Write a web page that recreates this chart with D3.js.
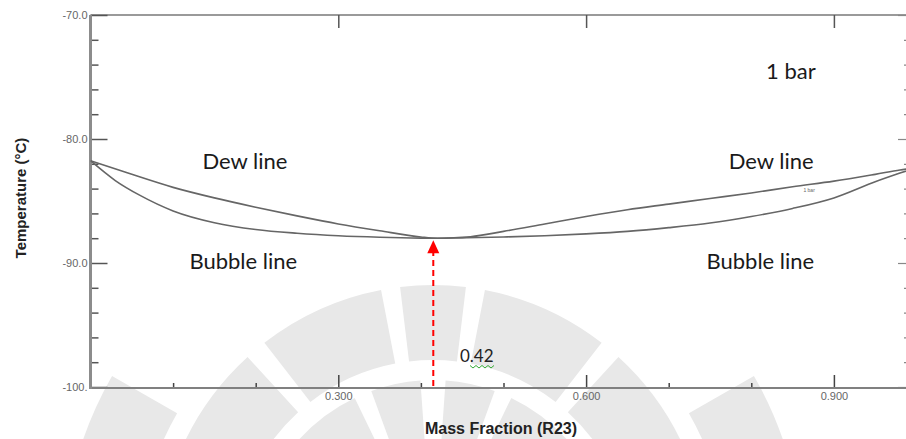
<!DOCTYPE html>
<html><head><meta charset="utf-8">
<script src="https://cdn.jsdelivr.net/npm/d3@7"></script>
<style>body{margin:0;background:#fff}svg{display:block}</style>
</head><body>
<svg id="c" width="906" height="439"></svg>
<script>
// ---- data ----
const dewX = [0, 0.05, 0.10, 0.15, 0.20, 0.25, 0.30, 0.35, 0.40, 0.42, 0.46, 0.50, 0.55, 0.60, 0.65, 0.70, 0.75, 0.80, 0.85, 0.90, 0.95, 0.98, 1.0];
const dewT = [-81.75, -82.85, -83.9, -84.75, -85.5, -86.2, -86.85, -87.4, -87.9, -88.0, -87.88, -87.45, -86.85, -86.25, -85.7, -85.25, -84.8, -84.35, -83.85, -83.4, -82.85, -82.5, -82.3];
const bubX = [0, 0.03, 0.06, 0.10, 0.15, 0.20, 0.25, 0.30, 0.35, 0.40, 0.42, 0.45, 0.50, 0.55, 0.60, 0.65, 0.70, 0.75, 0.80, 0.85, 0.90, 0.95, 0.98, 1.0];
const bubT = [-81.75, -83.35, -84.55, -85.8, -86.75, -87.3, -87.6, -87.8, -87.92, -87.99, -88.0, -87.97, -87.9, -87.8, -87.65, -87.45, -87.15, -86.78, -86.25, -85.6, -84.75, -83.45, -82.75, -82.3];
const yMajor = [-100, -90, -80, -70];
const yMajorLabels = ["-100.", "-90.0", "-80.0", "-70.0"];
const yMinor = [-98, -96, -94, -92, -88, -86, -84, -82, -78, -76, -74, -72];
const xMajor = [0.3, 0.6, 0.9];
const xMajorLabels = ["0.300", "0.600", "0.900"];
const xMinor = [0.1, 0.2, 0.4, 0.5, 0.7, 0.8];
const azeotropeX = 0.415, azeotropeT = -88.0, azeotropeLabel = "0.42";
const notes = [
  {text: "1 bar", x: 0.848, t: -75.2},
  {text: "Dew line", x: 0.187, t: -82.4},
  {text: "Dew line", x: 0.824, t: -82.4},
  {text: "Bubble line", x: 0.185, t: -90.5},
  {text: "Bubble line", x: 0.811, t: -90.5}
];

// ---- layout ----
const svg = d3.select("#c");
const L = 90.5, T = 15, B = 388, R = 909;
const x = d3.scaleLinear().domain([0, 1]).range([L, 916.5]);
const y = d3.scaleLinear().domain([-100, -70]).range([387, T]);

// watermark (faint logo)
const wm = svg.append("g").attr("fill", "#e8e8e8");
const arc = d3.arc();
const cx = 433, cy = 560;
[[-1.25,-0.74],[-0.66,-0.19],[-0.12,0.12],[0.19,0.66],[0.74,1.25]].forEach(a=>{
  wm.append("path").attr("transform",`translate(${cx},${cy})`)
    .attr("d", arc({innerRadius: 200, outerRadius: 275, startAngle: a[0], endAngle: a[1]}));
});
[[-1.05,-0.45],[-0.35,-0.07],[0.07,0.35],[0.45,1.05]].forEach(a=>{
  wm.append("path").attr("transform",`translate(${cx},${cy})`)
    .attr("d", arc({innerRadius: 110, outerRadius: 180, startAngle: a[0], endAngle: a[1]}));
});
[[-1.45,-1.05],[1.05,1.45]].forEach(a=>{
  wm.append("path").attr("transform",`translate(${cx},${cy})`)
    .attr("d", arc({innerRadius: 295, outerRadius: 370, startAngle: a[0], endAngle: a[1]}));
});

// frame
svg.append("line").attr("x1", L).attr("x2", R).attr("y1", T).attr("y2", T).attr("stroke", "#9a9a9a").attr("stroke-width", 2);
svg.append("line").attr("x1", R).attr("x2", R).attr("y1", T).attr("y2", B).attr("stroke", "#9a9a9a").attr("stroke-width", 2);

// left axis ticks (inward)
const gl = svg.append("g").attr("transform", `translate(${L},0)`);
gl.call(d3.axisRight(y).tickValues(yMajor).tickSize(17).tickFormat(""));
gl.select(".domain").remove();
const glm = svg.append("g").attr("transform", `translate(${L},0)`);
glm.call(d3.axisRight(y).tickValues(yMinor).tickSize(8).tickFormat(""));
glm.select(".domain").remove();
const gll = svg.append("g").attr("transform", `translate(${L - 2},0)`);
gll.call(d3.axisLeft(y).tickValues(yMajor).tickSize(0).tickPadding(1).tickFormat((d,i)=>yMajorLabels[i]));
gll.select(".domain").remove();
gll.selectAll("text").attr("font-family","Liberation Sans, Arial, sans-serif").attr("font-size",11).attr("fill","#666").attr("dy","0.32em");
[gl, glm].forEach(g=>g.selectAll("line").attr("stroke","#555").attr("stroke-width",1.5));

// right axis ticks (inward)
const gr = svg.append("g").attr("transform", `translate(${R},0)`);
gr.call(d3.axisLeft(y).tickValues(yMajor).tickSize(11).tickFormat(""));
gr.select(".domain").remove();
const grm = svg.append("g").attr("transform", `translate(${R},0)`);
grm.call(d3.axisLeft(y).tickValues(yMinor).tickSize(5).tickFormat(""));
grm.select(".domain").remove();
[gr, grm].forEach(g=>g.selectAll("line").attr("stroke","#888").attr("stroke-width",1.2));

// top axis ticks
const gt = svg.append("g").attr("transform", `translate(0,${T})`);
gt.call(d3.axisBottom(x).tickValues(xMajor).tickSize(13).tickFormat(""));
gt.select(".domain").remove();
gt.selectAll("line").attr("stroke","#555").attr("stroke-width",1.5);

// bottom axis
const gb = svg.append("g").attr("transform", `translate(0,${B})`);
gb.call(d3.axisTop(x).tickValues(xMajor).tickSize(13).tickFormat(""));
gb.select(".domain").remove();
const gbm = svg.append("g").attr("transform", `translate(0,${B})`);
gbm.call(d3.axisTop(x).tickValues(xMinor).tickSize(5).tickFormat(""));
gbm.select(".domain").remove();
[gb, gbm].forEach(g=>g.selectAll("line").attr("stroke","#444").attr("stroke-width",1.5));
const gbl = svg.append("g").attr("transform", `translate(0,${B})`);
gbl.call(d3.axisBottom(x).tickValues(xMajor).tickSize(0).tickPadding(4).tickFormat((d,i)=>xMajorLabels[i]));
gbl.select(".domain").remove();
gbl.selectAll("text").attr("font-family","Liberation Sans, Arial, sans-serif").attr("font-size",11).attr("fill","#666");

svg.append("line").attr("x1", L - 1).attr("x2", R).attr("y1", B).attr("y2", B).attr("stroke", "#808080").attr("stroke-width", 2);
svg.append("line").attr("x1", L).attr("x2", L).attr("y1", T).attr("y2", B + 1).attr("stroke", "#8c8c8c").attr("stroke-width", 3);

// axis titles
svg.append("text").attr("transform", `translate(26,198) rotate(-90)`)
  .attr("text-anchor","middle").attr("font-family","Liberation Sans, Arial, sans-serif")
  .attr("font-weight","bold").attr("font-size",15).attr("fill","#222").text("Temperature (°C)");
svg.append("text").attr("x", 501).attr("y", 434).attr("text-anchor","middle")
  .attr("font-family","Liberation Sans, Arial, sans-serif").attr("font-weight","bold")
  .attr("font-size",16).attr("fill","#222").text("Mass Fraction (R23)");

// curves
svg.append("clipPath").attr("id","pc").append("rect").attr("x",L).attr("y",T).attr("width",R-L).attr("height",B-T);
const line = d3.line().x(d=>x(d[0])).y(d=>y(d[1])).curve(d3.curveMonotoneX);
const curves = svg.append("g").attr("clip-path","url(#pc)");
curves.append("path").datum(dewX.map((v,i)=>[v, dewT[i]])).attr("d", line)
  .attr("fill","none").attr("stroke","#666").attr("stroke-width",1.6);
curves.append("path").datum(bubX.map((v,i)=>[v, bubT[i]])).attr("d", line)
  .attr("fill","none").attr("stroke","#666").attr("stroke-width",1.6);
// small inline label on dew line
svg.append("text").attr("x", x(0.87)).attr("y", y(-84.25)).attr("text-anchor","middle")
  .attr("font-family","Liberation Sans, Arial, sans-serif").attr("font-size",5).attr("fill","#666").text("1 bar");

// azeotrope arrow
const ax = x(azeotropeX);
svg.append("line").attr("x1", ax).attr("x2", ax).attr("y1", B - 2).attr("y2", y(azeotropeT) + 12)
  .attr("stroke","#f00").attr("stroke-width",2).attr("stroke-dasharray","6,4");
const tipY = y(azeotropeT) + 2;
svg.append("path").attr("d", `M${ax},${tipY}L${ax-6},${tipY+13}L${ax+6},${tipY+13}Z`).attr("fill","#f00");
svg.append("text").attr("x", 460).attr("y", 362).attr("font-family","Lato, Open Sans, sans-serif")
  .attr("font-size",17).attr("fill","#222").text(azeotropeLabel);
// spell-check squiggle
const sq = d3.range(0, 9).map(i=>[470 + i*3, 366 + (i%2 ? 2 : -0.5)]);
svg.append("path").attr("d", d3.line()(sq)).attr("fill","none").attr("stroke","#3a3").attr("stroke-width",1);

// annotations
svg.selectAll("text.note").data(notes).join("text").attr("class","note")
  .attr("x", d=>x(d.x)).attr("y", d=>y(d.t)).attr("text-anchor","middle")
  .attr("font-family","Lato, Open Sans, sans-serif").attr("font-size",22).attr("fill","#1a1a1a")
  .text(d=>d.text);
</script>
</body></html>
